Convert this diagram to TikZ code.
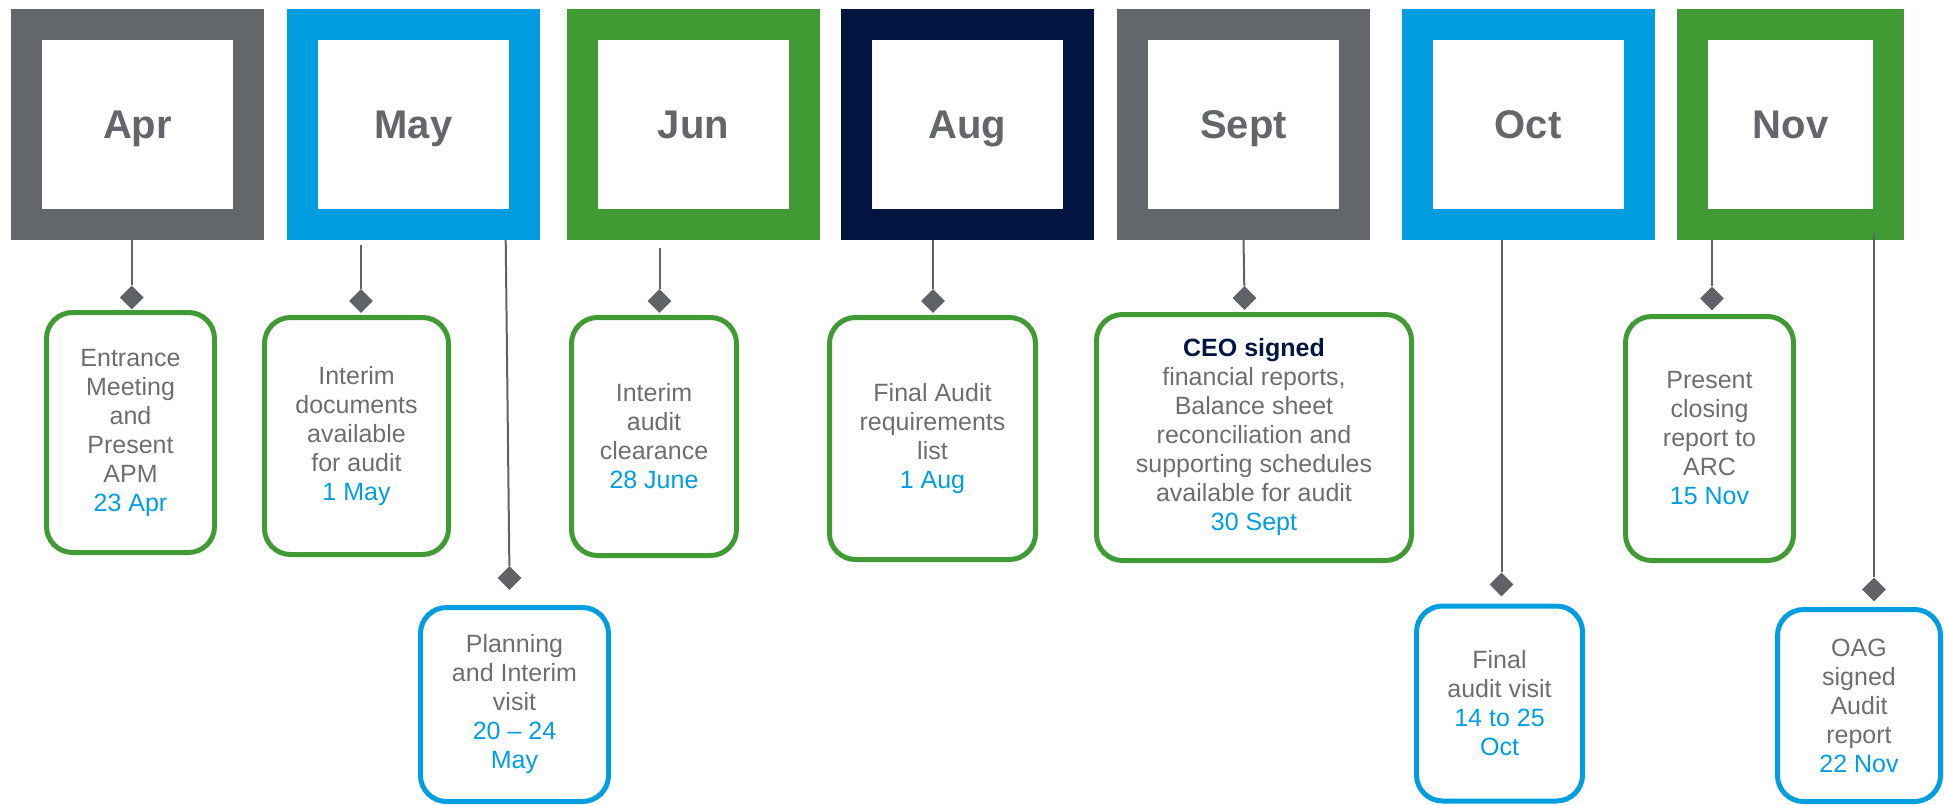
\documentclass[tikz,border=0pt]{standalone}
\usepackage{fontspec}
\setmainfont{Liberation Sans}
\usetikzlibrary{shapes.geometric}
\definecolor{fgray}{RGB}{99,102,106}
\definecolor{fblue}{RGB}{0,158,224}
\definecolor{fgreen}{RGB}{64,155,53}
\definecolor{fnavy}{RGB}{0,21,64}
\definecolor{tgray}{RGB}{109,110,113}
\definecolor{lgray}{RGB}{95,98,102}
\begin{document}
\begin{tikzpicture}[x=1pt,y=-1pt,
  month/.style={draw=#1, line width=31pt, minimum width=222pt, minimum height=200pt, inner sep=0pt, text height=29pt, text depth=2pt, text=fgray, font=\fontsize{40}{48}\selectfont\bfseries},
  event/.style={draw=#1, line width=5pt, rounded corners=26pt, inner sep=0pt, align=center, text=tgray, font=\fontsize{25}{29}\selectfont},
  evsize/.style 2 args={minimum width=#1, minimum height=#2},
  diam/.style={diamond, fill=lgray, minimum width=24pt, minimum height=24pt, inner sep=0pt},
  conn/.style={draw=lgray, line width=2pt}
]
\useasboundingbox (0,0) rectangle (1944,804);

% month boxes
\node[month=fgray] (apr) at (137.5,124.5) {Apr};
\node[month=fblue] (may) at (413.5,124.5) {May};
\node[month=fgreen] (jun) at (693.5,124.5) {Jun};
\node[month=fnavy] (aug) at (967.5,124.5) {Aug};
\node[month=fgray] (sep) at (1243.5,124.5) {Sept};
\node[month=fblue] (oct) at (1528,124.5) {Oct};
\node[month=fgreen, minimum width=196pt] (nov) at (1790.5,124.5) {Nov};

% event boxes
\node[event=fgreen, evsize={168pt}{240pt}] (e1) at (130.5,432.5)
  {Entrance\\Meeting\\and\\Present\\APM\\\textcolor{fblue}{23 Apr}};
\node[event=fgreen, evsize={184pt}{237pt}] (e2) at (356.5,436)
  {Interim\\documents\\available\\for audit\\\textcolor{fblue}{1 May}};
\node[event=fblue, evsize={188pt}{194pt}] (e3) at (514.5,704.5)
  {Planning\\and Interim\\visit\\\textcolor{fblue}{20 – 24}\\\textcolor{fblue}{May}};
\node[event=fgreen, evsize={165pt}{238pt}] (e4) at (654,436.5)
  {Interim\\audit\\clearance\\\textcolor{fblue}{28 June}};
\node[event=fgreen, evsize={206pt}{242pt}] (e5) at (932.5,438.5)
  {Final Audit\\requirements\\list\\\textcolor{fblue}{1 Aug}};
\node[event=fgreen, evsize={315pt}{246pt}] (e6) at (1254,437.5)
  {\textcolor{fnavy}{\bfseries CEO signed}\\financial reports,\\Balance sheet\\reconciliation and\\supporting schedules\\available for audit\\\textcolor{fblue}{30 Sept}};
\node[event=fblue, evsize={166pt}{195pt}] (e7) at (1499.5,703.5)
  {Final\\audit visit\\\textcolor{fblue}{14 to 25}\\\textcolor{fblue}{Oct}};
\node[event=fgreen, evsize={168pt}{244pt}] (e8) at (1709.5,438.5)
  {Present\\closing\\report to\\ARC\\\textcolor{fblue}{15 Nov}};
\node[event=fblue, evsize={163pt}{192pt}] (e9) at (1859,705.5)
  {OAG\\signed\\Audit\\report\\\textcolor{fblue}{22 Nov}};

% diamonds
\node[diam] (d1) at (131.7,297.5) {};
\node[diam] (d2) at (361,301) {};
\node[diam] (d3) at (509.5,578) {};
\node[diam] (d4) at (659.5,301) {};
\node[diam] (d5) at (933,301) {};
\node[diam] (d6) at (1244.5,298) {};
\node[diam] (d7) at (1501.5,584.5) {};
\node[diam] (d8) at (1712,298.5) {};
\node[diam] (d9) at (1874,589.5) {};

% connector start points
\coordinate (s1) at (131.7,240);
\coordinate (s2) at (361,245);
\coordinate (s3) at (505.7,240);
\coordinate (s4) at (659.5,248);
\coordinate (s5) at (933,240);
\coordinate (s6) at (1243.5,240);
\coordinate (s7) at (1501.5,240);
\coordinate (s8) at (1712,240);
\coordinate (s9) at (1874,233);

\foreach \i in {1,...,9} {\draw[conn] (s\i) -- (d\i);}
\end{tikzpicture}
\end{document}
